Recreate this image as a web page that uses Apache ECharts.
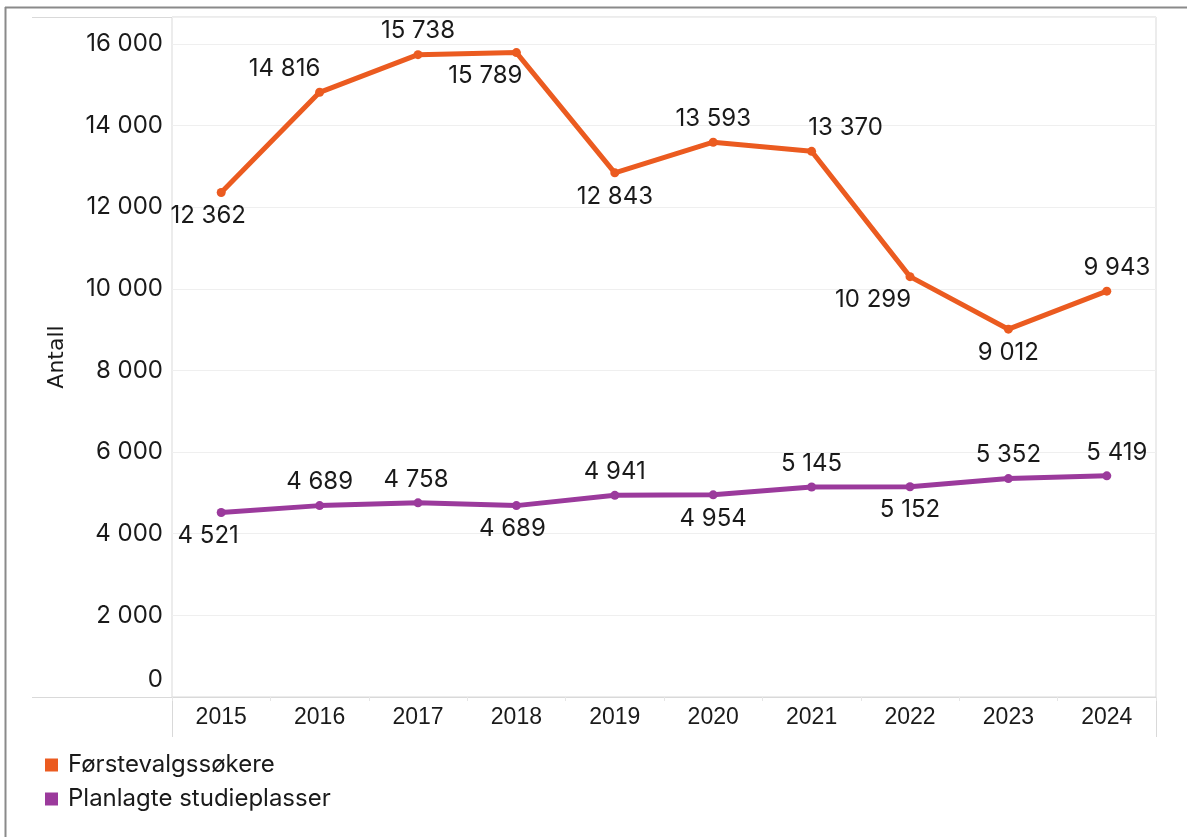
<!DOCTYPE html>
<html>
<head>
<meta charset="utf-8">
<script src="https://cdn.jsdelivr.net/npm/echarts@6/dist/echarts.min.js"></script>
<style>html,body{margin:0;padding:0;background:#fff}#c{width:1187px;height:837px}</style>
</head>
<body>
<div id="c"></div>
<script>
var years = ['2015','2016','2017','2018','2019','2020','2021','2022','2023','2024'];
var forstevalg = [12362, 14816, 15738, 15789, 12843, 13593, 13370, 10299, 9012, 9943];
var studieplasser = [4521, 4689, 4758, 4689, 4941, 4954, 5145, 5152, 5352, 5419];
var yTicks = [0, 2000, 4000, 6000, 8000, 10000, 12000, 14000, 16000];
var seriesNames = ['Førstevalgssøkere', 'Planlagte studieplasser'];

// label placement (style only)
var posA = [['bottom',-13],['top',-35],['top',0],['bottom',-31],['bottom',0],['top',0],['top',34],['bottom',-37],['bottom',0],['top',10]];
var posB = [['bottom',-13],['top',0],['top',-2],['bottom',-4],['top',0],['bottom',0],['top',0],['bottom',0],['top',0],['top',10]];

function fmt(v){ return String(v).replace(/\B(?=(\d{3})+(?!\d))/g, ' '); }
function build(vals, pos){
  return vals.map(function(v,i){
    return {value:v, label:{position:pos[i][0], offset:[pos[i][1], 0]}};
  });
}
var font = 'Inter, "Noto Sans", sans-serif';
var chart = echarts.init(document.getElementById('c'));
chart.setOption({
  animation:false,
  backgroundColor:'#fff',
  grid:{left:172, right:31, top:17, bottom:140, show:true, borderColor:'#d9d9d9', borderWidth:1},
  legend:{orient:'vertical', left:40, top:748, itemWidth:13, itemHeight:13, itemGap:10, icon:'rect',
    textStyle:{fontFamily:font, fontSize:24, color:'#1a1a1a', padding:[0,0,0,5]}, data:seriesNames},
  xAxis:{type:'category', data:years, boundaryGap:true,
    axisLine:{lineStyle:{color:'#d9d9d9'}},
    axisTick:{show:true, length:4, lineStyle:{color:'#e6e6e6'}},
    axisLabel:{fontFamily:'"Liberation Sans", Arial, sans-serif', fontSize:23, color:'#1a1a1a', margin:9}},
  yAxis:{type:'value', min:0, max:16661, interval:2000,
    name:'Antall', nameLocation:'middle', nameGap:104,
    nameTextStyle:{fontFamily:'"DejaVu Sans", sans-serif', fontSize:22, color:'#1a1a1a'},
    axisLine:{show:false}, axisTick:{show:false},
    splitLine:{lineStyle:{color:'#efefef'}},
    axisLabel:{fontFamily:font, fontSize:24, color:'#1a1a1a', margin:9,
      formatter:function(v){ return yTicks.indexOf(v)>=0 ? (v===0 ? '{z|0}' : fmt(v)) : ''; },
      rich:{z:{fontFamily:font, fontSize:24, color:'#1a1a1a', padding:[0,0,34,0]}}}},
  graphic:[
    {type:'line', shape:{x1:5, y1:7.5, x2:1187, y2:7.5}, style:{stroke:'#8a8a8a', lineWidth:2}},
    {type:'line', shape:{x1:5.5, y1:7, x2:5.5, y2:837}, style:{stroke:'#8a8a8a', lineWidth:2}},
    {type:'line', shape:{x1:32, y1:17.5, x2:172, y2:17.5}, style:{stroke:'#d9d9d9', lineWidth:1}},
    {type:'line', shape:{x1:32, y1:697.5, x2:172, y2:697.5}, style:{stroke:'#d9d9d9', lineWidth:1}},
    {type:'line', shape:{x1:172.5, y1:697, x2:172.5, y2:737}, style:{stroke:'#d9d9d9', lineWidth:1}},
    {type:'line', shape:{x1:1156.5, y1:697, x2:1156.5, y2:737}, style:{stroke:'#d9d9d9', lineWidth:1}}
  ],
  series:[
    {name:seriesNames[0], type:'line', data:build(forstevalg,posA), color:'#EB5B20',
      lineStyle:{width:5}, symbol:'circle', symbolSize:9,
      label:{show:true, distance:7, fontFamily:font, fontSize:24, color:'#1a1a1a', formatter:function(p){return fmt(p.value);}}},
    {name:seriesNames[1], type:'line', data:build(studieplasser,posB), color:'#9B3A9C',
      lineStyle:{width:5}, symbol:'circle', symbolSize:9,
      label:{show:true, distance:7, fontFamily:font, fontSize:24, color:'#1a1a1a', formatter:function(p){return fmt(p.value);}}}
  ]
});
</script>
</body>
</html>
